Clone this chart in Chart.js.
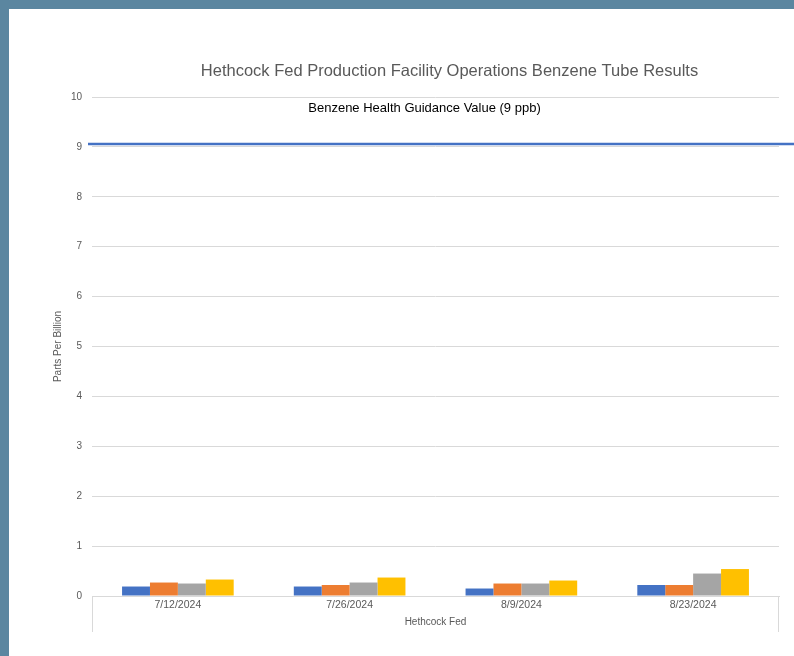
<!DOCTYPE html>
<html>
<head>
<meta charset="utf-8">
<script src="https://cdn.jsdelivr.net/npm/chart.js@4.4.1/dist/chart.umd.min.js"></script>
<style>
  html, body { margin: 0; padding: 0; background: #5b86a0; }
  #wrap { position: absolute; left: 9px; top: 9px; width: 785px; height: 647px; background: #fff; }
</style>
</head>
<body>
<div id="wrap"><canvas id="benzeneChart" width="785" height="647"></canvas></div>
<script>
// sample dates on the x axis
const sampleDates = ['7/12/2024', '7/26/2024', '8/9/2024', '8/23/2024'];

// benzene tube readings (ppb)
const tube1 = [0.19, 0.19, 0.15, 0.22];
const tube2 = [0.27, 0.22, 0.25, 0.22];
const tube3 = [0.25, 0.27, 0.25, 0.45];
const tube4 = [0.33, 0.37, 0.31, 0.54];

const yMin = 0;
const yMax = 10;
const yStep = 1;

// guidance line sits a hair above the 9 gridline in the original
const guidanceValue = 9.06;
const guidanceLabel = 'Benzene Health Guidance Value (9 ppb)';
const guidanceLabelAt = 9.78;

const chartTitle = 'Hethcock Fed Production Facility Operations Benzene Tube Results';

const fontFamily = '"Liberation Sans", Arial, sans-serif';
const grey = '#595959';

const guidancePlugin = {
  id: 'guidance',
  afterDraw(chart) {
    const { ctx, chartArea, scales } = chart;
    const y = scales.y.getPixelForValue(guidanceValue);
    const mid = (chartArea.left + chartArea.right) / 2;
    ctx.save();

    // title is off-centre to the right in the original
    ctx.fillStyle = grey;
    ctx.font = '16.5px ' + fontFamily;
    ctx.textAlign = 'center';
    ctx.textBaseline = 'middle';
    ctx.fillText(chartTitle, mid + 14, 62);

    // the line runs past the plot to the right edge
    ctx.strokeStyle = '#4472c4';
    ctx.lineWidth = 2.5;
    ctx.beginPath();
    ctx.moveTo(chartArea.left - 4, y);
    ctx.lineTo(chart.width, y);
    ctx.stroke();

    ctx.fillStyle = '#000';
    ctx.font = '13px ' + fontFamily;
    ctx.fillText(guidanceLabel, mid - 11, scales.y.getPixelForValue(guidanceLabelAt));

    // box round the category axis
    ctx.strokeStyle = '#d9d9d9';
    ctx.lineWidth = 1;
    ctx.beginPath();
    ctx.moveTo(chartArea.left + 0.5, chartArea.bottom);
    ctx.lineTo(chartArea.left + 0.5, chartArea.bottom + 36);
    ctx.moveTo(chartArea.right - 0.5, chartArea.bottom);
    ctx.lineTo(chartArea.right - 0.5, chartArea.bottom + 36);
    ctx.stroke();
    ctx.restore();
  }
};

new Chart(document.getElementById('benzeneChart'), {
  type: 'bar',
  data: {
    labels: sampleDates,
    datasets: [
      { label: 'Tube 1', data: tube1, backgroundColor: '#4472c4' },
      { label: 'Tube 2', data: tube2, backgroundColor: '#ed7d31' },
      { label: 'Tube 3', data: tube3, backgroundColor: '#a5a5a5' },
      { label: 'Tube 4', data: tube4, backgroundColor: '#ffc000' },
    ],
  },
  options: {
    responsive: false,
    animation: false,
    layout: { padding: { left: 0, right: 15, top: 88, bottom: 0 } },
    datasets: { bar: { barPercentage: 1, categoryPercentage: 0.65 } },
    plugins: {
      legend: { display: false },
      tooltip: { enabled: false },
      title: { display: false },
    },
    scales: {
      x: {
        grid: { display: false, drawTicks: false },
        border: { display: true, color: '#d9d9d9' },
        ticks: { color: grey, font: { family: fontFamily, size: 10.5 }, padding: 3, maxRotation: 0 },
        title: {
          display: true,
          text: 'Hethcock Fed',
          color: grey,
          font: { family: fontFamily, size: 10 },
          padding: { top: 0, bottom: 28 },
        },
        afterFit(scale) { scale.height = 60; },
      },
      y: {
        min: yMin,
        max: yMax,
        grid: { color: '#d9d9d9', drawTicks: false },
        border: { display: false },
        ticks: { stepSize: yStep, color: grey, font: { family: fontFamily, size: 10 }, padding: 10 },
        title: {
          display: true,
          text: 'Parts Per Billion',
          color: grey,
          font: { family: fontFamily, size: 10 },
          padding: { top: 43, bottom: 0 },
        },
        afterFit(scale) { scale.width = 83; },
      },
    },
  },
  plugins: [guidancePlugin],
});
</script>
</body>
</html>
